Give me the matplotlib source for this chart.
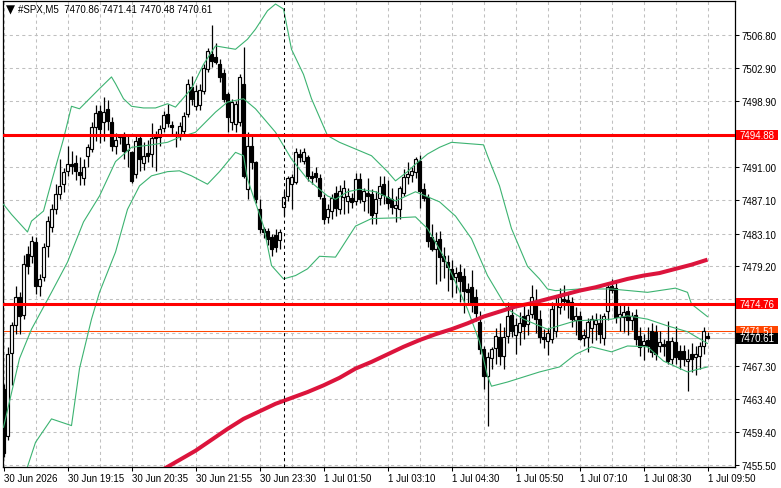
import numpy as np
import matplotlib
matplotlib.use("Agg")
import matplotlib.pyplot as plt
from matplotlib.patches import Rectangle
from matplotlib.transforms import blended_transform_factory
from matplotlib.ticker import MultipleLocator

plt.rcParams['font.family'] = ['Liberation Sans', 'DejaVu Sans']

# M5 candles, one entry per bar (bar 0 = 30 Jun, last = 1 Jul 09:50)
opens = [
    7464.6, 7459.0, 7468.9, 7472.2, 7475.5, 7473.4, 7480.7, 7480.4, 7482.1, 7476.9,
    7477.9, 7481.6, 7483.9, 7486.0, 7487.8, 7489.0, 7490.6, 7491.4, 7491.5, 7490.4,
    7489.8, 7492.4, 7493.2, 7495.8, 7497.7, 7496.4, 7498.0, 7496.4, 7493.5, 7494.6,
    7494.9, 7493.1, 7492.8, 7490.2, 7494.5, 7491.5, 7492.7, 7492.6, 7494.8, 7494.6,
    7495.7, 7497.4, 7496.1, 7495.0, 7495.0, 7495.4, 7497.4, 7500.6, 7498.3, 7498.5,
    7500.1, 7502.8, 7504.5, 7504.2, 7503.4, 7502.3, 7499.8, 7496.4, 7496.2, 7496.4,
    7501.0, 7488.4, 7493.5, 7491.6, 7486.0, 7483.7, 7483.4, 7482.7, 7483.0, 7482.4,
    7486.3, 7487.6, 7489.0, 7489.3, 7492.6, 7491.8, 7492.2, 7490.0, 7490.3, 7489.8,
    7487.4, 7485.1, 7485.8, 7488.0, 7486.0, 7487.5, 7487.0, 7487.3, 7487.0, 7489.6,
    7487.0, 7488.0, 7487.8, 7485.6, 7487.3, 7489.0, 7487.5, 7487.2, 7486.2, 7486.0,
    7488.0, 7489.9, 7490.1, 7490.4, 7491.8, 7488.4, 7487.5, 7482.7, 7481.3, 7482.5,
    7480.4, 7479.7, 7478.9, 7477.9, 7478.5, 7478.0, 7476.5, 7476.7, 7475.5, 7472.6,
    7469.3, 7466.1, 7468.3, 7469.4, 7470.8, 7468.5, 7470.9, 7473.4, 7471.0, 7471.4,
    7473.3, 7472.3, 7473.5, 7475.0, 7472.9, 7470.8, 7470.3, 7470.5, 7471.5, 7474.3,
    7475.3, 7475.2, 7475.0, 7472.8, 7473.3, 7470.6, 7470.8, 7471.8, 7472.3, 7472.5,
    7470.6, 7473.9, 7476.8, 7476.6, 7473.2, 7473.2, 7473.9, 7472.8, 7473.4, 7470.9,
    7469.8, 7470.4, 7471.5, 7471.4, 7469.7, 7469.9, 7470.3, 7468.1, 7470.2, 7469.1,
    7469.1, 7467.9, 7468.75, 7468.4, 7468.5, 7469.7, 7470.86,
]
highs = [
    7465.2, 7469.6, 7472.6, 7476.8, 7476.1, 7480.6, 7481.6, 7482.8, 7482.7, 7478.3,
    7482.0, 7485.2, 7486.6, 7489.0, 7492.0, 7490.9, 7493.6, 7493.0, 7492.5, 7492.2,
    7492.0, 7493.8, 7496.4, 7498.5, 7498.4, 7499.4, 7499.0, 7497.0, 7495.1, 7495.0,
    7495.2, 7494.8, 7493.0, 7494.7, 7495.0, 7494.0, 7494.3, 7496.3, 7495.4, 7496.1,
    7497.7, 7498.6, 7496.6, 7495.4, 7496.4, 7497.6, 7501.6, 7501.9, 7500.8, 7500.9,
    7503.4, 7505.3, 7508.0, 7505.9, 7503.9, 7502.7, 7500.0, 7499.2, 7498.9, 7502.2,
    7505.4, 7495.2, 7494.8, 7491.8, 7487.2, 7483.9, 7483.8, 7483.1, 7483.6, 7483.7,
    7488.2, 7490.0, 7490.2, 7493.3, 7493.2, 7493.3, 7492.5, 7490.6, 7491.1, 7490.2,
    7487.8, 7486.6, 7487.8, 7488.8, 7488.9, 7489.5, 7488.6, 7488.0, 7490.3, 7490.3,
    7488.6, 7489.8, 7488.4, 7488.2, 7490.0, 7490.0, 7489.5, 7488.6, 7487.6, 7488.8,
    7490.8, 7491.6, 7491.0, 7492.2, 7492.5, 7489.2, 7487.8, 7484.2, 7483.3, 7483.4,
    7481.5, 7480.5, 7480.0, 7479.1, 7479.5, 7479.0, 7477.2, 7478.8, 7476.5, 7473.9,
    7469.7, 7469.0, 7469.6, 7471.9, 7472.5, 7472.0, 7475.0, 7474.4, 7473.0, 7473.8,
    7474.5, 7474.1, 7477.0, 7476.5, 7474.0, 7471.7, 7471.8, 7475.0, 7475.5, 7476.6,
    7477.0, 7476.0, 7475.5, 7474.4, 7473.9, 7471.7, 7473.0, 7473.4, 7473.6, 7473.5,
    7473.6, 7477.3, 7477.7, 7477.5, 7474.6, 7474.8, 7474.5, 7473.8, 7474.1, 7472.0,
    7471.1, 7472.0, 7472.5, 7472.2, 7471.5, 7470.5, 7472.7, 7470.8, 7472.1, 7469.8,
    7469.8, 7469.3, 7470.0, 7469.7, 7470.2, 7472.0, 7471.41,
]
lows = [
    7456.5, 7458.5, 7465.1, 7471.1, 7471.1, 7472.9, 7478.3, 7479.6, 7475.9, 7475.7,
    7477.5, 7480.3, 7483.3, 7485.4, 7487.2, 7488.1, 7490.0, 7490.2, 7489.5, 7488.9,
    7488.9, 7491.0, 7492.9, 7494.2, 7493.9, 7494.2, 7495.5, 7493.0, 7492.6, 7493.8,
    7492.0, 7491.0, 7489.2, 7489.8, 7490.6, 7490.7, 7491.6, 7491.1, 7490.6, 7493.6,
    7495.2, 7495.8, 7495.0, 7493.4, 7494.3, 7495.0, 7497.0, 7498.5, 7497.8, 7497.9,
    7499.8, 7502.4, 7503.0, 7503.3, 7501.2, 7498.8, 7495.2, 7495.5, 7495.2, 7496.0,
    7489.8, 7487.2, 7490.8, 7486.8, 7483.2, 7482.6, 7481.8, 7480.4, 7480.9, 7481.3,
    7485.2, 7487.0, 7486.0, 7489.0, 7491.6, 7491.4, 7489.4, 7489.0, 7489.3, 7487.2,
    7484.2, 7484.4, 7484.8, 7485.2, 7485.5, 7485.5, 7485.6, 7486.2, 7486.5, 7486.8,
    7485.8, 7485.6, 7484.2, 7484.2, 7486.5, 7486.6, 7486.0, 7485.4, 7484.5, 7484.8,
    7487.6, 7489.0, 7489.3, 7489.8, 7486.2, 7487.0, 7481.5, 7481.0, 7477.1, 7477.5,
    7477.8, 7476.2, 7475.5, 7476.0, 7475.0, 7473.6, 7474.7, 7473.8, 7472.7, 7468.8,
    7464.6, 7460.2, 7467.0, 7467.5, 7467.4, 7467.0, 7470.0, 7470.8, 7468.7, 7469.8,
    7470.5, 7471.0, 7473.0, 7471.2, 7470.0, 7469.5, 7468.6, 7470.0, 7470.8, 7473.5,
    7474.0, 7473.0, 7472.0, 7471.0, 7470.4, 7469.7, 7469.0, 7470.0, 7470.4, 7470.0,
    7469.8, 7472.8, 7476.0, 7472.4, 7471.5, 7471.4, 7471.0, 7471.6, 7469.8, 7468.5,
    7468.0, 7469.0, 7468.4, 7468.0, 7469.0, 7468.5, 7467.5, 7467.5, 7467.6, 7467.0,
    7467.3, 7464.3, 7466.6, 7466.2, 7466.9, 7468.8, 7470.48,
]
closes = [
    7456.9, 7468.8, 7472.2, 7475.6, 7473.3, 7479.5, 7479.2, 7482.2, 7476.9, 7477.7,
    7481.5, 7484.6, 7486.0, 7487.8, 7488.8, 7490.4, 7491.4, 7491.2, 7490.6, 7490.1,
    7491.1, 7493.4, 7495.8, 7497.5, 7495.6, 7497.6, 7496.5, 7493.6, 7494.3, 7494.7,
    7493.0, 7493.8, 7489.4, 7494.1, 7492.0, 7492.4, 7492.4, 7494.5, 7494.5, 7495.6,
    7497.3, 7496.3, 7495.8, 7495.0, 7496.0, 7497.1, 7501.0, 7499.2, 7500.1, 7500.3,
    7502.9, 7504.9, 7503.7, 7503.6, 7501.8, 7499.2, 7497.0, 7498.8, 7498.6, 7501.8,
    7490.0, 7493.6, 7491.6, 7487.2, 7483.7, 7483.3, 7482.5, 7481.3, 7481.5, 7483.3,
    7487.5, 7489.8, 7489.9, 7492.8, 7492.3, 7492.9, 7490.0, 7489.8, 7489.9, 7487.6,
    7484.8, 7486.1, 7487.3, 7486.2, 7488.2, 7488.5, 7487.6, 7486.9, 7489.6, 7487.2,
    7488.2, 7487.6, 7485.3, 7487.2, 7488.8, 7487.7, 7486.8, 7486.3, 7486.5, 7488.6,
    7489.9, 7490.2, 7490.6, 7492.0, 7488.2, 7487.4, 7482.2, 7481.3, 7482.2, 7480.3,
    7479.8, 7479.1, 7477.7, 7478.4, 7477.4, 7476.2, 7476.1, 7475.0, 7473.6, 7469.3,
    7466.1, 7468.4, 7469.3, 7470.9, 7468.5, 7470.8, 7473.3, 7471.5, 7472.2, 7472.4,
    7472.1, 7473.4, 7475.6, 7472.9, 7470.8, 7470.5, 7471.2, 7474.1, 7474.7, 7475.6,
    7475.1, 7475.0, 7472.9, 7473.3, 7470.5, 7471.0, 7472.6, 7472.9, 7472.8, 7471.1,
    7473.3, 7476.7, 7476.4, 7473.2, 7473.5, 7473.8, 7472.8, 7473.3, 7470.5, 7469.6,
    7470.3, 7469.7, 7469.0, 7468.8, 7470.2, 7469.7, 7467.9, 7470.3, 7468.4, 7468.1,
    7468.1, 7468.1, 7468.15, 7468.8, 7469.7, 7471.5, 7470.61,
]

x_tick_labels = ['30 Jun 2026', '30 Jun 19:15', '30 Jun 20:35', '30 Jun 21:55',
                 '30 Jun 23:30', '1 Jul 01:50', '1 Jul 03:10', '1 Jul 04:30',
                 '1 Jul 05:50', '1 Jul 07:10', '1 Jul 08:30', '1 Jul 09:50']
y_ticks = [7455.50, 7459.40, 7463.40, 7467.30, 7471.30, 7475.30, 7479.20,
           7483.10, 7487.10, 7491.00, 7494.90, 7498.90, 7502.90, 7506.80]
y_tick_labels = ['7455.50', '7459.40', '7463.40', '7467.30', '', '', '7479.20',
                 '7483.10', '7487.10', '7491.00', '', '7498.90', '7502.90', '7506.80']

# slow moving average (thick crimson line), read at every 4th bar
ma_bars = list(range(40, 177, 4))
ma_values = [7455.0, 7456.1, 7457.2, 7458.5, 7459.8, 7461.0, 7461.9, 7462.8, 7463.5,
             7464.2, 7465.0, 7465.9, 7467.0, 7467.8, 7468.7, 7469.6, 7470.4, 7471.1,
             7471.7, 7472.4, 7473.2, 7473.8, 7474.4, 7474.8, 7475.3, 7475.8, 7476.3,
             7476.7, 7477.2, 7477.7, 7478.1, 7478.4, 7478.9, 7479.4, 7480.0]

upper_bars = [0, 2, 6, 7, 10, 12, 15, 17, 19, 24, 27, 28, 30, 32, 35, 38, 41, 43,
              47, 50, 53, 58, 61, 63, 66, 68, 70, 72, 75, 77, 81, 84, 89, 92, 96,
              98, 101, 103, 106, 109, 112, 120, 121, 124, 127, 131, 134, 136, 138,
              144, 152, 161, 168, 171, 172, 176]
upper_values = [7486.6, 7485.4, 7483.3, 7484.6, 7485.8, 7489.3, 7494.4, 7498.3,
                7498.0, 7500.4, 7501.8, 7501.0, 7499.2, 7498.3, 7498.1, 7498.1,
                7498.6, 7498.2, 7500.4, 7503.3, 7505.5, 7505.1, 7506.3, 7507.5,
                7509.7, 7510.5, 7509.9, 7505.1, 7502.1, 7499.2, 7494.8, 7494.0,
                7493.0, 7492.4, 7490.5, 7489.4, 7490.5, 7491.4, 7492.6, 7493.4,
                7494.0, 7493.7, 7492.4, 7488.8, 7483.7, 7479.2, 7477.7, 7476.5,
                7476.3, 7476.5, 7476.5, 7476.1, 7476.6, 7476.1, 7474.7, 7473.2]
middle_bars = [0, 4, 7, 12, 16, 20, 24, 28, 32, 37, 41, 44, 48, 53, 56, 60, 63, 68,
               72, 76, 81, 83, 86, 89, 93, 98, 103, 109, 113, 117, 121, 126, 130,
               134, 136, 143, 152, 156, 161, 166, 171, 176]
middle_values = [7460.0, 7468.2, 7471.7, 7476.1, 7479.7, 7484.5, 7487.6, 7491.7,
                 7493.4, 7493.7, 7494.0, 7494.6, 7495.2, 7497.6, 7498.8, 7499.2,
                 7498.0, 7495.2, 7492.0, 7489.6, 7487.6, 7487.2, 7488.1, 7488.4,
                 7488.1, 7487.0, 7488.1, 7486.9, 7485.2, 7482.5, 7478.1, 7474.1,
                 7472.9, 7472.1, 7471.7, 7472.7, 7472.9, 7473.3, 7472.9, 7472.1,
                 7471.4, 7470.0]
lower_bars = [5, 6, 8, 12, 17, 19, 22, 24, 28, 31, 34, 37, 41, 44, 47, 51, 54, 58,
              60, 61, 65, 67, 70, 73, 76, 79, 83, 88, 92, 99, 103, 106, 110, 113,
              116, 119, 121, 122, 126, 134, 139, 143, 147, 152, 156, 161, 165, 171,
              176]
lower_values = [7454.0, 7455.3, 7458.2, 7461.0, 7460.2, 7467.0, 7472.9, 7476.1,
                7480.9, 7486.0, 7488.8, 7490.0, 7490.5, 7490.6, 7490.0, 7489.0,
                7490.5, 7492.8, 7492.4, 7489.6, 7484.0, 7479.3, 7477.7, 7478.1,
                7478.9, 7480.4, 7480.3, 7484.0, 7484.9, 7485.0, 7485.1, 7483.7,
                7480.4, 7477.3, 7474.1, 7470.2, 7466.1, 7464.9, 7465.4, 7466.6,
                7467.2, 7468.7, 7469.6, 7469.0, 7469.7, 7469.6, 7467.9, 7466.6,
                7467.2]

level_prices = [7494.88, 7474.76]
ask_price = 7471.51
bid_price = 7470.61
marker_bar = 70
header = '#SPX,M5  7470.86 7471.41 7470.48 7470.61'

FS = 7.0


def draw_candles(ax, o, h, l, c):
    """Draw OHLC candles: white body for up bars, black body for down bars."""
    x = np.arange(len(c))
    o, h, l, c = map(np.asarray, (o, h, l, c))
    up = c >= o
    ax.vlines(x, l, h, color='black', lw=0.9, zorder=3)
    ax.bar(x[up], (c - o)[up], bottom=o[up], width=0.55, color='white',
           edgecolor='black', lw=0.85, zorder=4)
    ax.bar(x[~up], (o - c)[~up], bottom=c[~up], width=0.55, color='black',
           edgecolor='black', lw=0.85, zorder=4)


def price_box(fig, ax, price, text, face):
    """Coloured price tag on the right scale."""
    tr = blended_transform_factory(fig.transFigure, ax.transData)
    ax.add_patch(Rectangle((736 / 781, price - 0.62), 42 / 781, 1.24, transform=tr,
                           facecolor=face, edgecolor='none', clip_on=False, zorder=10))
    ax.text(757 / 781, price, text, transform=tr, color='white', fontsize=FS,
            ha='center', va='center', clip_on=False, zorder=11)


fig = plt.figure(figsize=(7.81, 4.89), dpi=100)
ax = fig.add_axes([3 / 781, 21 / 489, 732 / 781, 466 / 489])
ax.set_xlim(-0.125, 182.875)
ax.set_ylim(7455.26, 7510.86)

grid_style = dict(color='#c0c0c0', lw=0.75, ls=(0, (3, 3)))
ax.set_axisbelow(True)
ax.grid(True, axis='y', **grid_style)
ax.xaxis.set_minor_locator(MultipleLocator(8))
ax.grid(True, axis='x', which='both', **grid_style)

draw_candles(ax, opens, highs, lows, closes)

ax.plot(upper_bars, upper_values, color='#3cb371', lw=0.8, zorder=5)
ax.plot(middle_bars, middle_values, color='#3cb371', lw=0.8, zorder=5)
ax.plot(lower_bars, lower_values, color='#3cb371', lw=0.8, zorder=5)
ax.plot(ma_bars, ma_values, color='#dc143c', lw=2.9, zorder=6, solid_capstyle='butt')

for p in level_prices:
    ax.axhline(p, color='#ff0000', lw=2.2, zorder=7)
ax.axhline(ask_price, color='#ff4500', lw=0.75, zorder=2)
ax.axhline(bid_price, color='#c0c0c0', lw=0.75, zorder=2)
ax.axvline(marker_bar, color='black', lw=0.75, ls=(0, (3, 3)), zorder=6)

# right price scale
ax.yaxis.tick_right()
ax.set_yticks(y_ticks)
ax.set_yticklabels(y_tick_labels)
ax.tick_params(axis='y', length=3, width=0.75, pad=1.5, labelsize=FS)

# time scale, labels start at the tick
ax.set_xticks(np.arange(0, 177, 16))
ax.set_xticklabels(x_tick_labels)
for lab in ax.get_xticklabels():
    lab.set_ha('left')
ax.tick_params(axis='x', length=3, width=0.75, pad=1.5, labelsize=FS)
ax.tick_params(axis='x', which='minor', length=0)

for s in ax.spines.values():
    s.set_linewidth(0.9)
    s.set_color('black')

price_box(fig, ax, level_prices[0], '7494.88', '#ff0000')
price_box(fig, ax, level_prices[1], '7474.76', '#ff0000')
price_box(fig, ax, ask_price, '7471.51', '#ff4500')
price_box(fig, ax, bid_price, '7470.61', 'black')

fig.text(6 / 781, 1 - 10 / 489, '\u25bc', fontsize=8.5, ha='left', va='center',
         family='DejaVu Sans')
fig.text(18 / 781, 1 - 10 / 489, header, fontsize=FS, ha='left', va='center')

fig.savefig('out.png', dpi=100)
